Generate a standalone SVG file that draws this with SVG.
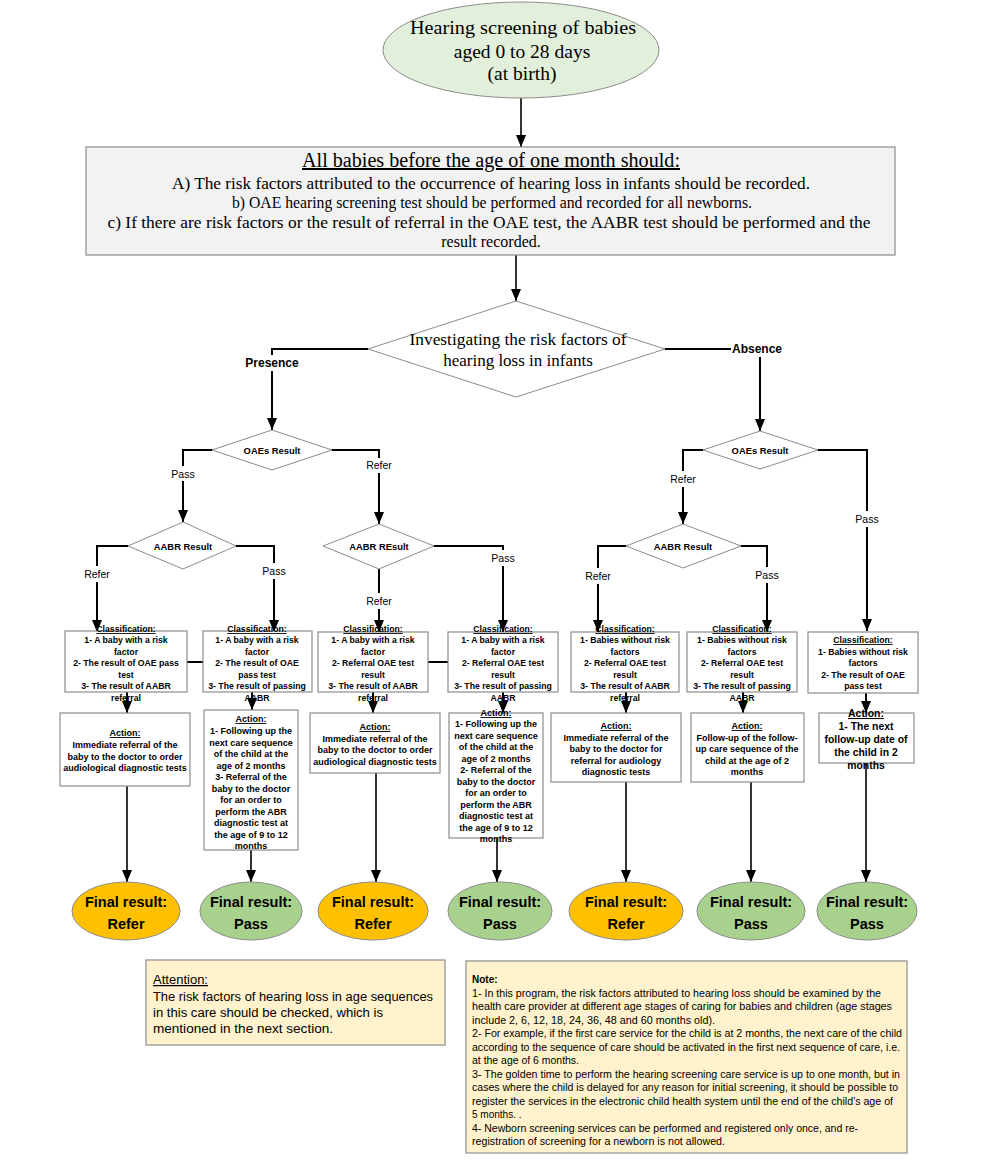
<svg xmlns="http://www.w3.org/2000/svg" width="1000" height="1165" viewBox="0 0 1000 1165">
<defs>
<marker id="arr" markerUnits="userSpaceOnUse" markerWidth="12" markerHeight="12" viewBox="0 0 12 12" refX="12" refY="6" orient="auto">
<path d="M0,1 L12,6 L0,11 Z" fill="#000"/>
</marker>
<style>
.serif{font-family:"Liberation Serif","Times New Roman",serif;fill:#000}
.sans{font-family:"Liberation Sans",Arial,sans-serif;fill:#000}
.box{fill:#fff;stroke:#8c8c8c;stroke-width:1.2}
.dia{fill:#fff;stroke:#8c8c8c;stroke-width:1}
.ln{fill:none;stroke:#000;stroke-width:2}
.cls{font-family:"Liberation Sans",Arial,sans-serif;font-weight:bold;font-size:8.7px;text-anchor:middle;fill:#000}
.act{font-family:"Liberation Sans",Arial,sans-serif;font-weight:bold;font-size:9px;text-anchor:middle;fill:#000}
.lbl{font-family:"Liberation Sans",Arial,sans-serif;font-size:10.5px;text-anchor:middle;fill:#000}
.dl{font-family:"Liberation Sans",Arial,sans-serif;font-weight:bold;font-size:9.4px;text-anchor:middle;fill:#000}
.fin{font-family:"Liberation Sans",Arial,sans-serif;font-weight:bold;font-size:14.5px;text-anchor:middle;fill:#000}
.u{text-decoration:underline}
.refer{fill:#FFC000;stroke:#8c8c8c;stroke-width:1}
.pass{fill:#A9D18E;stroke:#8c8c8c;stroke-width:1}
.note{fill:#FFF2CC;stroke:#8c8c8c;stroke-width:1.2}
</style>
</defs>
<rect width="1000" height="1165" fill="#fff"/>

<!-- connectors -->
<g id="connectors">
<path class="ln" style="stroke-width:1.6" d="M521,98 V147" marker-end="url(#arr)"/>
<path class="ln" style="stroke-width:1.6" d="M516,255 V301" marker-end="url(#arr)"/>
<path class="ln" d="M368,349 H272 V355"/>
<path class="ln" d="M272,371 V430" marker-end="url(#arr)"/>
<path class="ln" d="M665,349 H731"/>
<path class="ln" d="M760,357 V431" marker-end="url(#arr)"/>
<path class="ln" d="M212,450 H183 V466"/>
<path class="ln" d="M183,481 V522" marker-end="url(#arr)"/>
<path class="ln" d="M332,450 H379 V458"/>
<path class="ln" d="M379,473 V524" marker-end="url(#arr)"/>
<path class="ln" d="M128,546 H97 V566"/>
<path class="ln" d="M97,582 V632" marker-end="url(#arr)"/>
<path class="ln" d="M236,546 H274 V563"/>
<path class="ln" d="M274,579 V632" marker-end="url(#arr)"/>
<path class="ln" d="M379,569 V593"/>
<path class="ln" d="M379,609 V632" marker-end="url(#arr)"/>
<path class="ln" d="M434,546 H503 V550"/>
<path class="ln" d="M503,566 V632" marker-end="url(#arr)"/>
<path class="ln" d="M703,450 H683 V471"/>
<path class="ln" d="M683,487 V524" marker-end="url(#arr)"/>
<path class="ln" d="M818,450 H867 V511"/>
<path class="ln" d="M867,527 V631" marker-end="url(#arr)"/>
<path class="ln" d="M626,546 H598 V568"/>
<path class="ln" d="M598,584 V632" marker-end="url(#arr)"/>
<path class="ln" d="M741,546 H767 V567"/>
<path class="ln" d="M767,583 V632" marker-end="url(#arr)"/>
<path class="ln" d="M187,662 H203"/>
<path class="ln" d="M428,662 H448"/>
<path class="ln" d="M127,692 V713" marker-end="url(#arr)"/>
<path class="ln" d="M252,692 V710" marker-end="url(#arr)"/>
<path class="ln" d="M373,692 V713" marker-end="url(#arr)"/>
<path class="ln" d="M503,692 V713" marker-end="url(#arr)"/>
<path class="ln" d="M626,692 V713" marker-end="url(#arr)"/>
<path class="ln" d="M743,692 V713" marker-end="url(#arr)"/>
<path class="ln" d="M866,693 V713" marker-end="url(#arr)"/>
<path class="ln" style="stroke-width:1.6" d="M127,786 V882" marker-end="url(#arr)"/>
<path class="ln" style="stroke-width:1.6" d="M251,850 V882" marker-end="url(#arr)"/>
<path class="ln" style="stroke-width:1.6" d="M376,773 V882" marker-end="url(#arr)"/>
<path class="ln" style="stroke-width:1.6" d="M497,838 V882" marker-end="url(#arr)"/>
<path class="ln" style="stroke-width:1.6" d="M626,782 V882" marker-end="url(#arr)"/>
<path class="ln" style="stroke-width:1.6" d="M751,782 V882" marker-end="url(#arr)"/>
<path class="ln" style="stroke-width:1.6" d="M866,763 V882" marker-end="url(#arr)"/>
<text class="sans" x="272" y="367" font-size="12" font-weight="bold" text-anchor="middle">Presence</text>
<text class="sans" x="732" y="353" font-size="12" font-weight="bold">Absence</text>
<text class="lbl" x="183" y="478">Pass</text>
<text class="lbl" x="379" y="469">Refer</text>
<text class="lbl" x="97" y="578">Refer</text>
<text class="lbl" x="274" y="575">Pass</text>
<text class="lbl" x="379" y="605">Refer</text>
<text class="lbl" x="503" y="562">Pass</text>
<text class="lbl" x="683" y="483">Refer</text>
<text class="lbl" x="867" y="523">Pass</text>
<text class="lbl" x="598" y="580">Refer</text>
<text class="lbl" x="767" y="579">Pass</text>
</g>

<g id="start">
<ellipse cx="521" cy="50" rx="138" ry="48" fill="#E2EFDA" stroke="#8c8c8c" stroke-width="1"/>
<text class="serif" x="523" y="34" font-size="19.5" text-anchor="middle" textLength="226" lengthAdjust="spacingAndGlyphs">Hearing screening of babies</text>
<text class="serif" x="522" y="58" font-size="19.5" text-anchor="middle">aged 0 to 28 days</text>
<text class="serif" x="522" y="80" font-size="19.5" text-anchor="middle">(at birth)</text>
</g>

<g id="header">
<rect x="86" y="147" width="809" height="108" fill="#F2F2F2" stroke="#8c8c8c" stroke-width="1.2"/>
<text class="serif u" x="491" y="167" font-size="20" text-anchor="middle" textLength="378" lengthAdjust="spacingAndGlyphs">All babies before the age of one month should:</text>
<text class="serif" x="491" y="189" font-size="16" text-anchor="middle" textLength="638" lengthAdjust="spacingAndGlyphs">A) The risk factors attributed to the occurrence of hearing loss in infants should be recorded.</text>
<text class="serif" x="492" y="208" font-size="16" text-anchor="middle" textLength="520" lengthAdjust="spacingAndGlyphs">b) OAE hearing screening test should be performed and recorded for all newborns.</text>
<text class="serif" x="489" y="228" font-size="16" text-anchor="middle" textLength="763" lengthAdjust="spacingAndGlyphs">c) If there are risk factors or the result of referral in the OAE test, the AABR test should be performed and the</text>
<text class="serif" x="491" y="247" font-size="16" text-anchor="middle">result recorded.</text>
</g>

<g id="risk-diamond">
<polygon class="dia" points="516,301 665,349 516,397 368,349"/>
<text class="serif" x="518" y="345" font-size="17" text-anchor="middle" textLength="217" lengthAdjust="spacingAndGlyphs">Investigating the risk factors of</text>
<text class="serif" x="518" y="366" font-size="17" text-anchor="middle">hearing loss in infants</text>
</g>

<g id="oae-left">
<polygon class="dia" points="272,430 332,450 272,470 212,450"/>
<text class="dl" x="272" y="454">OAEs Result</text>
</g>
<g id="oae-right">
<polygon class="dia" points="760,431 818,450 760,469 703,450"/>
<text class="dl" x="760" y="454">OAEs Result</text>
</g>
<g id="aabr-1">
<polygon class="dia" points="183,522 236,546 183,569 128,546"/>
<text class="dl" x="183" y="550">AABR Result</text>
</g>
<g id="aabr-2">
<polygon class="dia" points="379,524 434,546 379,569 323,546"/>
<text class="dl" x="379" y="550">AABR REsult</text>
</g>
<g id="aabr-3">
<polygon class="dia" points="683,524 741,546 683,568 626,546"/>
<text class="dl" x="683" y="550">AABR Result</text>
</g>

<g id="class-1">
<rect class="box" x="65" y="631" width="122" height="61"/>
<text class="cls u" x="126" y="632">Classification:</text>
<text class="cls" x="126" y="643">1- A baby with a risk</text>
<text class="cls" x="126" y="654.5">factor</text>
<text class="cls" x="126" y="666">2- The result of OAE pass</text>
<text class="cls" x="126" y="677.5">test</text>
<text class="cls" x="126" y="689">3- The result of AABR</text>
<text class="cls" x="126" y="700.5">referral</text>
</g>
<g id="class-2">
<rect class="box" x="203" y="631" width="109" height="61"/>
<text class="cls u" x="257" y="632">Classification:</text>
<text class="cls" x="257" y="643">1- A baby with a risk</text>
<text class="cls" x="257" y="654.5">factor</text>
<text class="cls" x="257" y="666">2- The result of OAE</text>
<text class="cls" x="257" y="677.5">pass test</text>
<text class="cls" x="257" y="689">3- The result of passing</text>
<text class="cls" x="257" y="700.5">AABR</text>
</g>
<g id="class-3">
<rect class="box" x="318" y="632" width="110" height="60"/>
<text class="cls u" x="373" y="632">Classification:</text>
<text class="cls" x="373" y="643">1- A baby with a risk</text>
<text class="cls" x="373" y="654.5">factor</text>
<text class="cls" x="373" y="666">2- Referral OAE test</text>
<text class="cls" x="373" y="677.5">result</text>
<text class="cls" x="373" y="689">3- The result of AABR</text>
<text class="cls" x="373" y="700.5">referral</text>
</g>
<g id="class-4">
<rect class="box" x="448" y="632" width="110" height="60"/>
<text class="cls u" x="503" y="632">Classification:</text>
<text class="cls" x="503" y="643">1- A baby with a risk</text>
<text class="cls" x="503" y="654.5">factor</text>
<text class="cls" x="503" y="666">2- Referral OAE test</text>
<text class="cls" x="503" y="677.5">result</text>
<text class="cls" x="503" y="689">3- The result of passing</text>
<text class="cls" x="503" y="700.5">AABR</text>
</g>
<g id="class-5">
<rect class="box" x="571" y="632" width="108" height="60"/>
<text class="cls u" x="625" y="632">Classification:</text>
<text class="cls" x="625" y="643">1- Babies without risk</text>
<text class="cls" x="625" y="654.5">factors</text>
<text class="cls" x="625" y="666">2- Referral OAE test</text>
<text class="cls" x="625" y="677.5">result</text>
<text class="cls" x="625" y="689">3- The result of AABR</text>
<text class="cls" x="625" y="700.5">referral</text>
</g>
<g id="class-6">
<rect class="box" x="687" y="632" width="110" height="60"/>
<text class="cls u" x="742" y="632">Classification:</text>
<text class="cls" x="742" y="643">1- Babies without risk</text>
<text class="cls" x="742" y="654.5">factors</text>
<text class="cls" x="742" y="666">2- Referral OAE test</text>
<text class="cls" x="742" y="677.5">result</text>
<text class="cls" x="742" y="689">3- The result of passing</text>
<text class="cls" x="742" y="700.5">AABR</text>
</g>
<g id="class-7">
<rect class="box" x="808" y="632" width="110" height="61"/>
<text class="cls u" x="863" y="643">Classification:</text>
<text class="cls" x="863" y="654.5">1- Babies without risk</text>
<text class="cls" x="863" y="666">factors</text>
<text class="cls" x="863" y="677.5">2- The result of OAE</text>
<text class="cls" x="863" y="689">pass test</text>
</g>

<g id="action-1">
<rect class="box" x="60" y="713" width="130" height="73"/>
<text class="act u" x="125" y="736">Action:</text>
<text class="act" x="125" y="748">Immediate referral of the</text>
<text class="act" x="125" y="759.5">baby to the doctor to order</text>
<text class="act" x="125" y="771">audiological diagnostic tests</text>
</g>
<g id="action-2">
<rect class="box" x="204" y="710" width="94" height="140"/>
<text class="act u" x="251" y="722">Action:</text>
<text class="act" x="251" y="734">1- Following up the</text>
<text class="act" x="251" y="745.5">next care sequence</text>
<text class="act" x="251" y="757">of the child at the</text>
<text class="act" x="251" y="768.5">age of 2 months</text>
<text class="act" x="251" y="780">3- Referral of the</text>
<text class="act" x="251" y="791.5">baby to the doctor</text>
<text class="act" x="251" y="803">for an order to</text>
<text class="act" x="251" y="814.5">perform the ABR</text>
<text class="act" x="251" y="826">diagnostic test at</text>
<text class="act" x="251" y="837.5">the age of 9 to 12</text>
<text class="act" x="251" y="849">months</text>
</g>
<g id="action-3">
<rect class="box" x="310" y="713" width="130" height="60"/>
<text class="act u" x="375" y="730">Action:</text>
<text class="act" x="375" y="741.5">Immediate referral of the</text>
<text class="act" x="375" y="753">baby to the doctor to order</text>
<text class="act" x="375" y="764.5">audiological diagnostic tests</text>
</g>
<g id="action-4">
<rect class="box" x="449" y="713" width="94" height="125"/>
<text class="act u" x="496" y="716">Action:</text>
<text class="act" x="496" y="727">1- Following up the</text>
<text class="act" x="496" y="738.5">next care sequence</text>
<text class="act" x="496" y="750">of the child at the</text>
<text class="act" x="496" y="761.5">age of 2 months</text>
<text class="act" x="496" y="773">2- Referral of the</text>
<text class="act" x="496" y="784.5">baby to the doctor</text>
<text class="act" x="496" y="796">for an order to</text>
<text class="act" x="496" y="807.5">perform the ABR</text>
<text class="act" x="496" y="819">diagnostic test at</text>
<text class="act" x="496" y="830.5">the age of 9 to 12</text>
<text class="act" x="496" y="842">months</text>
</g>
<g id="action-5">
<rect class="box" x="551" y="713" width="130" height="69"/>
<text class="act u" x="616" y="729">Action:</text>
<text class="act" x="616" y="740.5">Immediate referral of the</text>
<text class="act" x="616" y="752">baby to the doctor for</text>
<text class="act" x="616" y="763.5">referral for audiology</text>
<text class="act" x="616" y="775">diagnostic tests</text>
</g>
<g id="action-6">
<rect class="box" x="691" y="713" width="113" height="69"/>
<text class="act u" x="747" y="729">Action:</text>
<text class="act" x="747" y="740.5">Follow-up of the follow-</text>
<text class="act" x="747" y="752">up care sequence of the</text>
<text class="act" x="747" y="763.5">child at the age of 2</text>
<text class="act" x="747" y="775">months</text>
</g>
<g id="action-7">
<rect class="box" x="819" y="713" width="95" height="50"/>
<text class="act u" x="866" y="717" style="font-size:10.4px">Action:</text>
<text class="act" x="866" y="730" style="font-size:10.4px">1- The next</text>
<text class="act" x="866" y="743" style="font-size:10.4px">follow-up date of</text>
<text class="act" x="866" y="756" style="font-size:10.4px">the child in 2</text>
<text class="act" x="866" y="769" style="font-size:10.4px">months</text>
</g>

<g id="final-1"><ellipse class="refer" cx="126" cy="911" rx="54" ry="29"/><text class="fin" x="126" y="907">Final result:</text><text class="fin" x="126" y="929">Refer</text></g>
<g id="final-2"><ellipse class="pass" cx="251" cy="911" rx="51" ry="29"/><text class="fin" x="251" y="907">Final result:</text><text class="fin" x="251" y="929">Pass</text></g>
<g id="final-3"><ellipse class="refer" cx="373" cy="911" rx="55" ry="29"/><text class="fin" x="373" y="907">Final result:</text><text class="fin" x="373" y="929">Refer</text></g>
<g id="final-4"><ellipse class="pass" cx="500" cy="911" rx="52" ry="29"/><text class="fin" x="500" y="907">Final result:</text><text class="fin" x="500" y="929">Pass</text></g>
<g id="final-5"><ellipse class="refer" cx="626" cy="911" rx="57" ry="29"/><text class="fin" x="626" y="907">Final result:</text><text class="fin" x="626" y="929">Refer</text></g>
<g id="final-6"><ellipse class="pass" cx="751" cy="911" rx="54" ry="29"/><text class="fin" x="751" y="907">Final result:</text><text class="fin" x="751" y="929">Pass</text></g>
<g id="final-7"><ellipse class="pass" cx="867" cy="911" rx="50" ry="29"/><text class="fin" x="867" y="907">Final result:</text><text class="fin" x="867" y="929">Pass</text></g>

<g id="attention">
<rect class="note" x="146" y="960" width="299" height="85"/>
<text class="sans u" x="153" y="984" font-size="12.5" textLength="55" lengthAdjust="spacingAndGlyphs">Attention:</text>
<text class="sans" x="153" y="1001" font-size="12.5" textLength="280" lengthAdjust="spacingAndGlyphs">The risk factors of hearing loss in age sequences</text>
<text class="sans" x="153" y="1017" font-size="12.5" textLength="230" lengthAdjust="spacingAndGlyphs">in this care should be checked, which is</text>
<text class="sans" x="153" y="1033" font-size="12.5" textLength="180" lengthAdjust="spacingAndGlyphs">mentioned in the next section.</text>
</g>

<g id="note">
<rect class="note" x="466" y="961" width="441" height="192"/>
<text class="sans" x="472" y="983" font-size="10" font-weight="bold">Note:</text>
<text class="sans" x="472" y="996.5" font-size="10" textLength="409" lengthAdjust="spacingAndGlyphs">1- In this program, the risk factors attributed to hearing loss should be examined by the</text>
<text class="sans" x="472" y="1010" font-size="10" textLength="420" lengthAdjust="spacingAndGlyphs">health care provider at different age stages of caring for babies and children (age stages</text>
<text class="sans" x="472" y="1023.5" font-size="10" textLength="243" lengthAdjust="spacingAndGlyphs">include 2, 6, 12, 18, 24, 36, 48 and 60 months old).</text>
<text class="sans" x="472" y="1037" font-size="10" textLength="430" lengthAdjust="spacingAndGlyphs">2- For example, if the first care service for the child is at 2 months, the next care of the child</text>
<text class="sans" x="472" y="1050.5" font-size="10" textLength="428" lengthAdjust="spacingAndGlyphs">according to the sequence of care should be activated in the first next sequence of care, i.e.</text>
<text class="sans" x="472" y="1064" font-size="10" textLength="107" lengthAdjust="spacingAndGlyphs">at the age of 6 months.</text>
<text class="sans" x="472" y="1077.5" font-size="10" textLength="428" lengthAdjust="spacingAndGlyphs">3- The golden time to perform the hearing screening care service is up to one month, but in</text>
<text class="sans" x="472" y="1091" font-size="10" textLength="426" lengthAdjust="spacingAndGlyphs">cases where the child is delayed for any reason for initial screening, it should be possible to</text>
<text class="sans" x="472" y="1104.5" font-size="10" textLength="421" lengthAdjust="spacingAndGlyphs">register the services in the electronic child health system until the end of the child's age of</text>
<text class="sans" x="472" y="1118" font-size="10">5 months. .</text>
<text class="sans" x="472" y="1131.5" font-size="10" textLength="386" lengthAdjust="spacingAndGlyphs">4- Newborn screening services can be performed and registered only once, and re-</text>
<text class="sans" x="472" y="1145" font-size="10" textLength="253" lengthAdjust="spacingAndGlyphs">registration of screening for a newborn is not allowed.</text>
</g>
</svg>
